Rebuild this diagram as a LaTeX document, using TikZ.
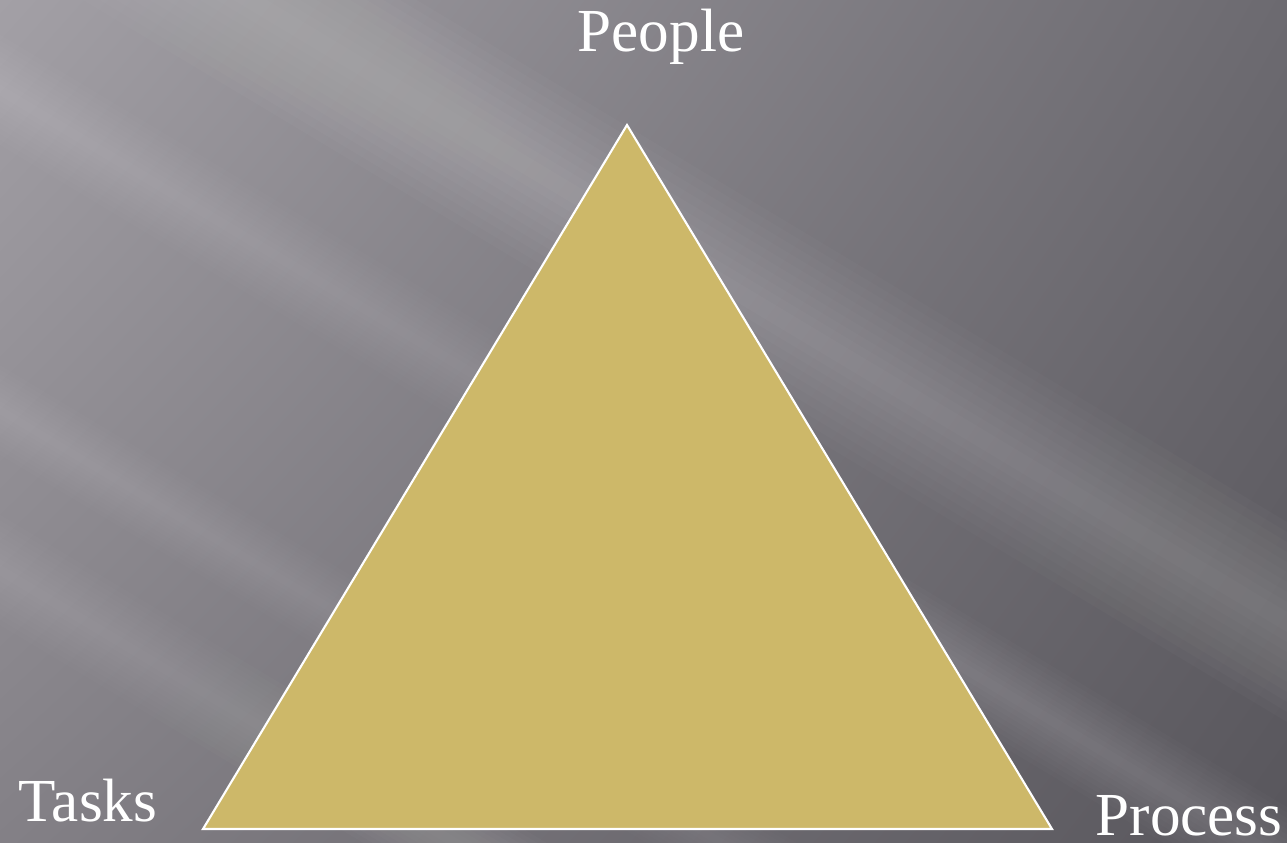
\documentclass[tikz,border=0pt]{standalone}
\usepackage{fontspec}
\setmainfont{Liberation Serif}
\usepackage{xcolor}
\usetikzlibrary{positioning,shadings}

\definecolor{slateUL}{HTML}{A3A0A6}
\definecolor{slateUR}{HTML}{6C6A70}
\definecolor{slateLL}{HTML}{838086}
\definecolor{slateLR}{HTML}{58565C}
\definecolor{triangold}{HTML}{CDB869}

\begin{document}
\begin{tikzpicture}[
  x=0.1mm, y=-0.1mm,
  corner/.style={
    font=\fontsize{17.4}{20}\selectfont,
    text=white,
    inner sep=0pt,
    text depth=0pt,
    anchor=base
  },
  streak/.style={fill=white, draw=none},
  tri/.style={fill=triangold, draw=white, line width=0.6pt, line join=miter}
]
  \useasboundingbox (0,0) rectangle (1287,843);
  % slide background
  \shade[upper left=slateUL, upper right=slateUR, lower left=slateLL, lower right=slateLR]
    (0,0) rectangle (1287,843);
  % light streaks (stacked bands give soft edges)
  \begin{scope}
    \clip (0,0) rectangle (1287,843);
    \foreach \yo/\w/\op in {-150/100/0.02, 90/55/0.015, 410/45/0.012, 570/55/0.015} {
      \foreach \k in {1,...,10} {
        \fill[streak, opacity=\op]
          (0,\yo-\w*\k/10) -- (1287,\yo+772-\w*\k/10) --
          (1287,\yo+772+\w*\k/10) -- (0,\yo+\w*\k/10) -- cycle;
      }
    }
  \end{scope}

  \coordinate (apex) at (627,125);
  \coordinate (baseL) at (203,829);
  \coordinate (baseR) at (1052,829);
  \draw[tri] (apex) -- (baseR) -- (baseL) -- cycle;

  \node[corner] (people) at (661,52) {People};
  \node[corner, anchor=base west] (tasks) at (18,821) {Tasks};
  \node[corner, anchor=base west] (process) at (1095,835) {Process};
\end{tikzpicture}
\end{document}
